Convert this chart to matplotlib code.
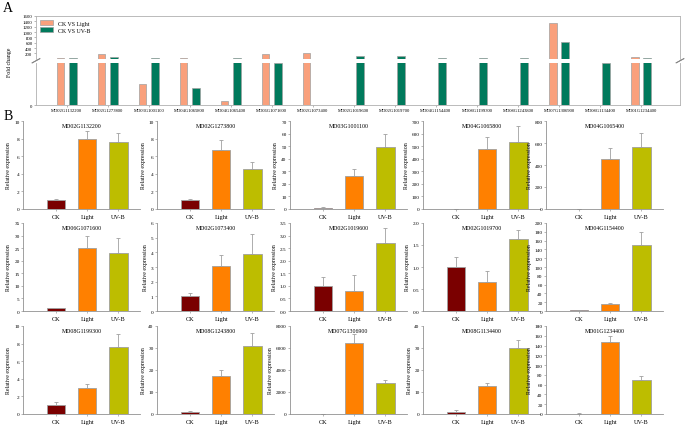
import matplotlib
matplotlib.use("Agg")
import matplotlib.pyplot as plt
import numpy as np

plt.rcParams['font.family'] = ['Liberation Serif', 'DejaVu Serif']

genes = ["MD02G1132200", "MD02G1273800", "MD03G1001100", "MD04G1065800", "MD04G1065400",
         "MD06G1071600", "MD02G1073400", "MD02G1019600", "MD02G1019700", "MD04G1154400",
         "MD08G1199300", "MD08G1243800", "MD07G1306900", "MD08G1134400", "MD01G1234400"]

# panel A: fold change (lower segment 0-10, upper segment 10-1600)
fc_light = [35, 170, 5.0, 35, 1.0, 165, 215, 0, 0, 0, 0, 0, 1330, 0, 55]
fc_uvb = [35, 60, 35, 4.0, 35, 10, 0, 85, 105, 35, 35, 35, 610, 10, 30]

# panel B: relative expression (CK, Light, UV-B) and upper error
groups = ["CK", "Light", "UV-B"]
rel_mean = [
    [1.0, 7.9, 7.6], [1.0, 6.7, 4.6], [1.0, 26, 49], [1.5, 480, 530], [2, 455, 560],
    [1.0, 25, 23], [1.0, 3.1, 3.9], [1.0, 0.8, 2.72], [1.0, 0.67, 1.63], [2, 17, 149],
    [1.0, 2.9, 7.6], [1.0, 17.5, 31], [2, 6480, 2850], [1.0, 12.8, 30.2], [1.0, 147, 70],
]
rel_err = [
    [0.1, 1.0, 1.0], [0.15, 1.1, 0.7], [0.3, 6, 11], [1, 95, 130], [1, 100, 130],
    [0.2, 5, 6], [0.2, 0.7, 1.35], [0.37, 0.65, 0.6], [0.23, 0.23, 0.22], [0.5, 2, 30],
    [0.35, 0.55, 1.5], [0.5, 2.3, 6], [20, 800, 230], [0.6, 1.5, 3.5], [0.5, 13, 7],
]
ymax = [10, 10, 70, 700, 800, 35, 6, 3.5, 2.0, 200, 10, 40, 8000, 40, 180]
ystep = [2, 2, 10, 100, 200, 5, 1, 0.5, 0.5, 20, 2, 10, 2000, 10, 20]

c_light, c_uvb = "#F9A07C", "#007A5C"
bar_colors = ["#7A0000", "#FF8000", "#BDBD00"]
edge = "#A0A0A0"
W, H = 685, 427

fig = plt.figure(figsize=(W / 100, H / 100), dpi=100)

def rect(l, t, w, h):
    return [l / W, 1 - (t + h) / H, w / W, h / H]

# ---- panel A ----
axt = fig.add_axes(rect(36, 17, 644, 42.5))
axb = fig.add_axes(rect(36, 64, 644, 42))
x = np.arange(len(genes))
off, bw = 0.15, 0.18
for ax in (axt, axb):
    ax.bar(x - off, fc_light, bw, color=c_light, edgecolor=edge, linewidth=0.5, label="CK VS Light")
    ax.bar(x + off, fc_uvb, bw, color=c_uvb, edgecolor=edge, linewidth=0.5, label="CK VS UV-B")
    ax.set_xlim(-0.75, 14.95)
    for s in ax.spines.values():
        s.set_color("#B0B0B0")
        s.set_linewidth(0.6)
    ax.tick_params(labelsize=3.5, length=1.5, width=0.4, color="#808080", pad=1)
axt.set_ylim(10, 1600)
axt.set_yticks(np.arange(200, 1601, 200))
axt.spines["bottom"].set_visible(False)
axt.tick_params(axis="x", bottom=False, labelbottom=False)
axb.set_ylim(0, 10)
axb.set_yticks([0])
axb.spines["top"].set_visible(False)
axb.set_xticks(x)
axb.set_xticklabels(genes, fontsize=3.3)
axt.legend(loc="upper left", fontsize=4.2, frameon=False, handlelength=2.2, handleheight=0.9,
           borderaxespad=0.3, labelspacing=0.3)
fig.text(10 / W, 1 - 62 / H, "Fold change", rotation=90, fontsize=4.2, ha="center", va="center")
# break marks
for xx in (0, 1):
    axb.plot([xx - 0.006, xx + 0.006], [1.0, 1.1], transform=axb.transAxes, color="#808080",
             lw=0.6, clip_on=False)
    axt.plot([xx - 0.006, xx + 0.006], [-0.1, 0.0], transform=axt.transAxes, color="#808080",
             lw=0.6, clip_on=False)

fig.text(8 / W, 1 - 8 / H, "A", fontsize=10, ha="center", va="center")
fig.text(8 / W, 1 - 116 / H, "B", fontsize=10, ha="center", va="center")

# ---- panel B ----
lefts = [23, 157, 290, 423, 546]
tops = [122, 224, 327]
for i, g in enumerate(genes):
    r, c = divmod(i, 5)
    ax = fig.add_axes(rect(lefts[c], tops[r], 117, 88))
    xb = np.arange(3)
    ax.bar(xb, rel_mean[i], 0.6, color=bar_colors, edgecolor=edge, linewidth=0.6)
    ax.errorbar(xb, rel_mean[i], yerr=[[0, 0, 0], rel_err[i]], fmt="none", ecolor=edge,
                elinewidth=0.6, capsize=1.2, capthick=0.6)
    ax.set_xlim(-1.06, 2.7)
    ax.set_ylim(0, ymax[i])
    ax.set_yticks(np.arange(0, ymax[i] + ystep[i] / 2, ystep[i]))
    if ystep[i] < 1:
        ax.set_yticklabels([f"{v:.1f}" for v in ax.get_yticks()])
    ax.set_xticks(xb)
    ax.set_xticklabels(groups)
    ax.spines["top"].set_visible(False)
    ax.spines["right"].set_visible(False)
    for s in ("left", "bottom"):
        ax.spines[s].set_color("#909090")
        ax.spines[s].set_linewidth(0.6)
    ax.tick_params(axis="y", labelsize=3.8, length=1.5, width=0.4, color="#808080", pad=1)
    ax.tick_params(axis="x", labelsize=4.5, length=1.5, width=0.4, color="#808080", pad=2)
    ax.set_ylabel("Relative expression", fontsize=4.2, labelpad=2)
    ax.text(0.5, 0.95, g, transform=ax.transAxes, ha="center", va="center", fontsize=4.2)

fig.savefig("out.png", dpi=100)
